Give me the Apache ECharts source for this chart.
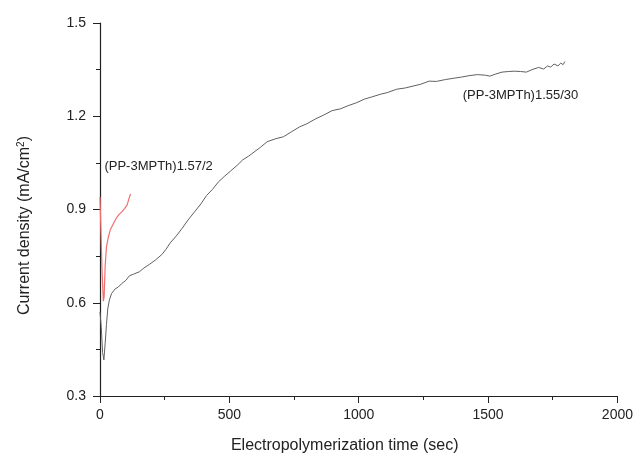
<!DOCTYPE html>
<html><head><meta charset="utf-8">
<script src="https://cdn.jsdelivr.net/npm/echarts@6/dist/echarts.min.js"></script>
<style>html,body{margin:0;padding:0;background:#fff}#c{width:636px;height:459px}</style>
</head><body><div id="c"></div>
<script>
// time (sec) and current density (mA/cm2)
var t30 = [0,5,10,15,20,25,30,36,45,59,70,83,100,114,130,153,170,192,215,239,255,271,295,318,340,365,390,412,435,458,480,505,530,552,575,599,620,646,680,709,740,772,800,834,865,897,930,959,990,1022,1050,1085,1110,1147,1180,1210,1240,1272,1300,1335,1365,1397,1430,1460,1490,1507,1530,1554,1580,1601,1625,1648,1670,1695,1715,1730,1742,1755,1770,1781,1790,1797];
var j30 = [0.57,0.52,0.44,0.416,0.47,0.53,0.58,0.608,0.63,0.645,0.65,0.661,0.672,0.687,0.692,0.70,0.712,0.724,0.738,0.755,0.772,0.792,0.815,0.84,0.866,0.892,0.918,0.945,0.965,0.989,1.006,1.024,1.042,1.06,1.072,1.087,1.10,1.118,1.128,1.134,1.15,1.166,1.176,1.192,1.204,1.218,1.224,1.234,1.243,1.255,1.262,1.271,1.276,1.287,1.291,1.297,1.303,1.313,1.312,1.318,1.322,1.326,1.331,1.334,1.332,1.329,1.336,1.342,1.344,1.345,1.344,1.342,1.35,1.357,1.352,1.362,1.358,1.368,1.362,1.371,1.366,1.376];
var t2 = [0,3,8,13,16,20,25,32,40,52,65,75,85,95,105,112,118];
var j2 = [0.94,0.85,0.70,0.605,0.62,0.72,0.78,0.81,0.835,0.855,0.875,0.885,0.893,0.903,0.915,0.935,0.95];
var xTicks = [0,500,1000,1500,2000];
var yTicks = [0.3,0.6,0.9,1.2,1.5];
var labels = [{text:'(PP-3MPTh)1.57/2', x:17, y:1.04},{text:'(PP-3MPTh)1.55/30', x:1402, y:1.268}];

function pairs(a,b){return a.map(function(v,i){return [v,b[i]];});}
var font = '"Liberation Sans", Arial, sans-serif';
var chart = echarts.init(document.getElementById('c'));
var axisCommon = {
  axisLine:{show:true,onZero:false,lineStyle:{color:'#222',width:1.2}},
  axisTick:{show:true,inside:false,length:7,lineStyle:{color:'#222'}},
  minorTick:{show:true,splitNumber:2,length:4,lineStyle:{color:'#222'}},
  splitLine:{show:false}
};
chart.setOption({
  animation:false,
  grid:{left:100,right:17,top:23,bottom:58,containLabel:false},
  xAxis:Object.assign({type:'value',min:xTicks[0],max:xTicks[xTicks.length-1],interval:500,
    name:'Electropolymerization time (sec)',nameLocation:'middle',nameGap:42,
    nameTextStyle:{fontSize:16,color:'#222',fontFamily:font,padding:[0,28,0,0]}},axisCommon,
    {axisLabel:{color:'#222',fontSize:14,fontFamily:font,margin:12,formatter:function(v){return String(v);}}}),
  yAxis:Object.assign({type:'value',min:yTicks[0],max:yTicks[yTicks.length-1],interval:0.3,
    name:'{a|Current density (mA/cm}{s|2}{a|)}',nameLocation:'middle',nameGap:66,nameRotate:90,
    nameTextStyle:{fontFamily:font,padding:[0,32,0,0],rich:{a:{fontSize:16,color:'#222',fontFamily:font},s:{fontSize:10,color:'#222',fontFamily:font,verticalAlign:'top',padding:[0,0,8,0]}}}},axisCommon,
    {axisLabel:{color:'#222',fontSize:14,fontFamily:font,margin:14,formatter:function(v){return v.toFixed(1);}}}),
  series:[
    {type:'line',data:pairs(t30,j30),showSymbol:false,lineStyle:{color:'#606060',width:1},z:2},
    {type:'line',data:pairs(t2,j2),showSymbol:false,lineStyle:{color:'#ef6f6f',width:1.2},z:3}
  ]
});
var g = labels.map(function(l){
  var p = chart.convertToPixel({gridIndex:0},[l.x,l.y]);
  return {type:'text',x:p[0],y:p[1],style:{text:l.text,fontSize:13,fontFamily:font,fill:'#222',verticalAlign:'middle'}};
});
chart.setOption({graphic:g});
</script></body></html>
